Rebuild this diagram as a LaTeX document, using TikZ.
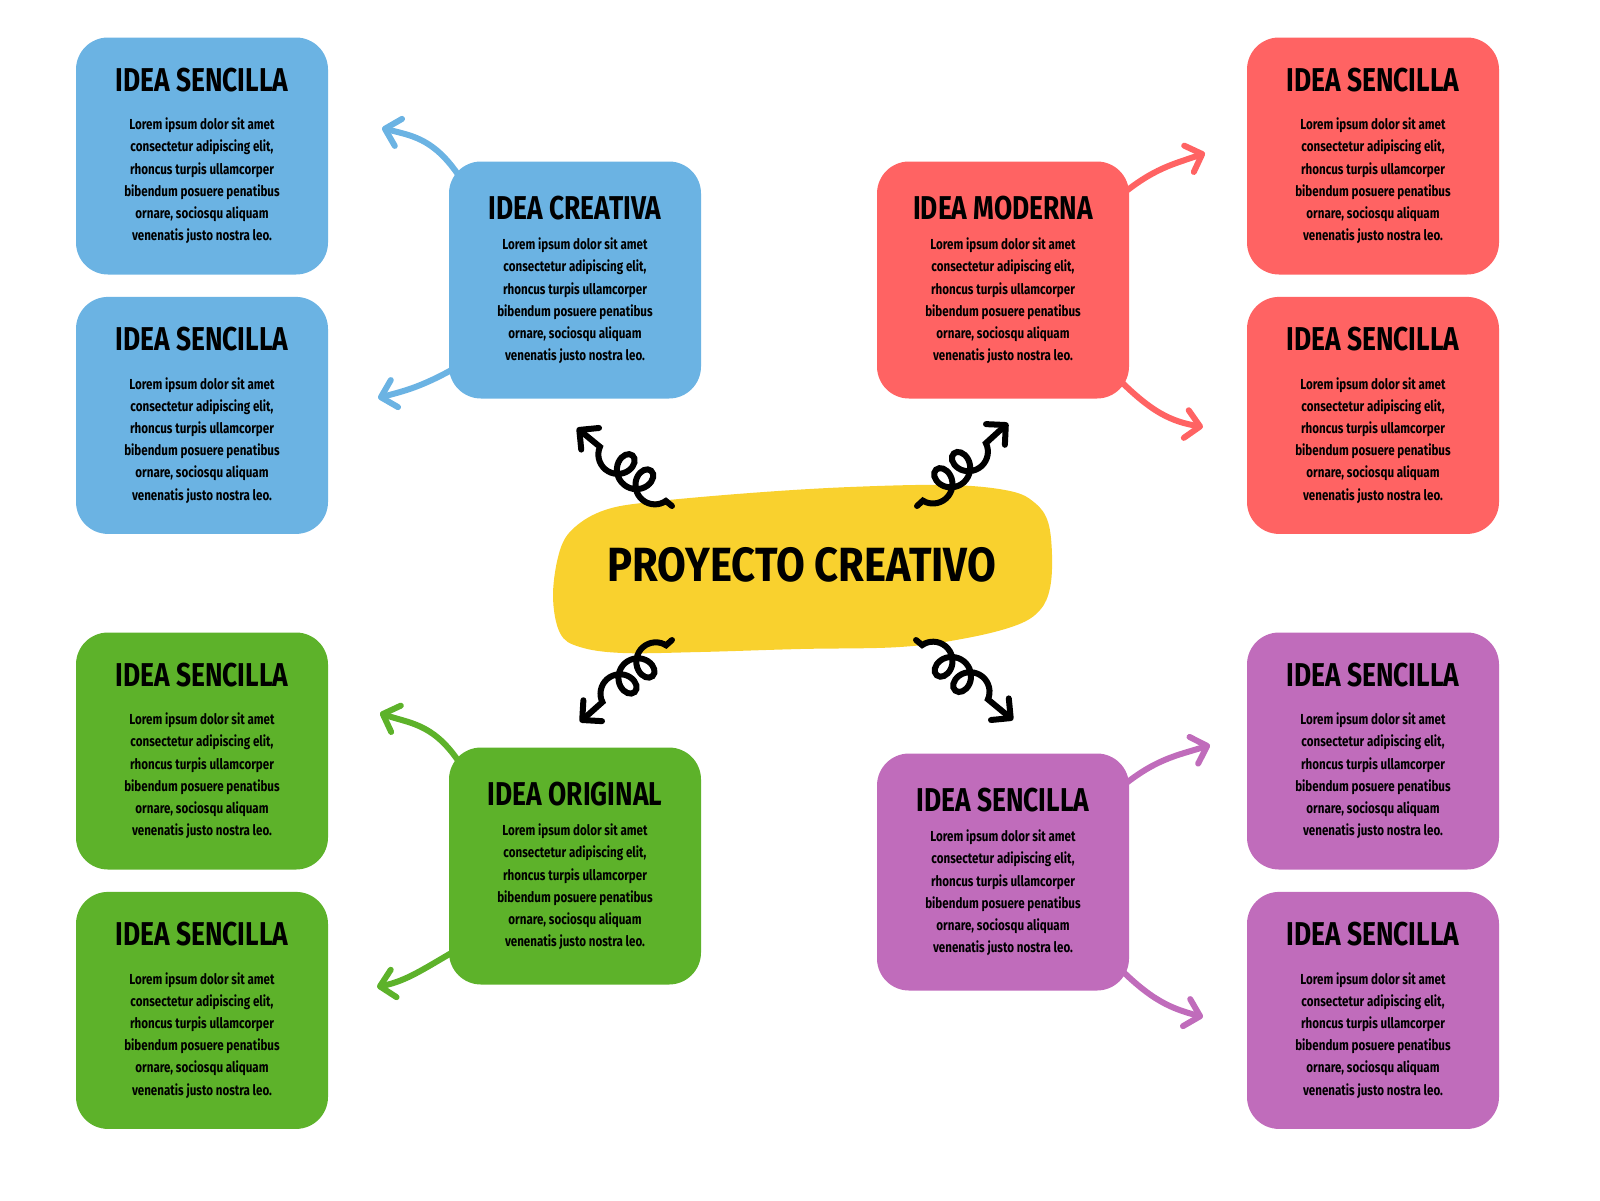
\documentclass[tikz,border=0pt]{standalone}
\usepackage{fontspec}
\setmainfont{Fira Sans}[FakeStretch=0.8]
\newfontfamily\titlefont{Fira Sans}[FakeStretch=0.87]
\usepackage{tikz}
\usetikzlibrary{arrows.meta, decorations.pathmorphing}
\usetikzlibrary{positioning}

\definecolor{azul}{HTML}{6BB3E3}
\definecolor{rojo}{HTML}{FF6363}
\definecolor{verde}{HTML}{5DB22A}
\definecolor{morado}{HTML}{C06CBB}
\definecolor{amarillo}{HTML}{F9D12E}

\newcommand{\lorem}{Lorem ipsum dolor sit amet\\ consectetur adipiscing elit,\\ rhoncus turpis ullamcorper\\ bibendum posuere penatibus\\ ornare, sociosqu aliquam\\ venenatis justo nostra leo.}
\newcommand{\titulo}[2]{{\fontsize{33}{33}\selectfont #1}\\[#2]}

\tikzstyle{idea_box} = [
    rounded corners=32pt,
    align=center,
    inner sep=0pt,
    minimum width=252pt,
    minimum height=237pt,
    font=\fontsize{14.5}{22.2}\selectfont\bfseries
]
\tikzstyle{blue_box} = [idea_box, fill=azul]
\tikzstyle{red_box} = [idea_box, fill=rojo]
\tikzstyle{green_box} = [idea_box, fill=verde]
\tikzstyle{purple_box} = [idea_box, fill=morado]
\tikzstyle{title_text} = [
    inner sep=0pt,
    font=\titlefont\fontsize{48}{48}\selectfont\bfseries
]
\tikzstyle{idea_arrow} = [
    line width=6pt,
    line cap=round,
    shorten <=-15pt, % hide the start under the box
    -{Straight Barb[round, length=14pt, width=28pt]}
]
\tikzstyle{squiggle} = [
    line width=6pt,
    line cap=round,
    black,
    decorate,
    decoration={coil, aspect=0.9, amplitude=14pt, segment length=24pt, pre length=8pt, post length=26pt},
    -{Straight Barb[round, length=14pt, width=28pt]}
]

\begin{document}
\begin{tikzpicture}[x=1pt, y=-1pt]
\useasboundingbox (0,0) rectangle (1600,1200);

% centre
\fill[amarillo] plot[smooth cycle, tension=0.6] coordinates {
    (553,595) (560,550) (575,527) (605,510) (650,502) (750,493) (850,487)
    (950,485) (1010,491) (1035,503) (1048,522) (1052,555) (1050,588)
    (1040,610) (1017,625) (967,638) (900,647) (800,649) (700,652)
    (623,653) (580,647) (560,633)
};
\node[title_text] (proyecto) at (802,565) {PROYECTO CREATIVO};

% inner ideas
\node[blue_box] (creativa) at (575,280) {\titulo{IDEA CREATIVA}{8pt}\lorem};
\node[red_box] (moderna) at (1003,280) {\titulo{IDEA MODERNA}{8pt}\lorem};
\node[green_box] (original) at (575,866) {\titulo{IDEA ORIGINAL}{8pt}\lorem};
\node[purple_box] (sencilla) at (1003,872) {\titulo{IDEA SENCILLA}{8pt}\lorem};

% outer ideas
\node[blue_box] (azul_a) at (202,156) {\titulo{IDEA SENCILLA}{16pt}\lorem};
\node[blue_box, below=22pt of azul_a] (azul_b) {\titulo{IDEA SENCILLA}{16pt}\lorem};
\node[green_box] (verde_a) at (202,751) {\titulo{IDEA SENCILLA}{16pt}\lorem};
\node[green_box, below=22pt of verde_a] (verde_b) {\titulo{IDEA SENCILLA}{16pt}\lorem};
\node[red_box] (rojo_a) at (1373,156) {\titulo{IDEA SENCILLA}{16pt}\lorem};
\node[red_box, below=22pt of rojo_a] (rojo_b) {\titulo{IDEA SENCILLA}{16pt}\lorem};
\node[purple_box] (morado_a) at (1373,751) {\titulo{IDEA SENCILLA}{16pt}\lorem};
\node[purple_box, below=22pt of morado_a] (morado_b) {\titulo{IDEA SENCILLA}{16pt}\lorem};

% arrow ends
\coordinate (punta_azul_a) at (382,128);
\coordinate (punta_azul_b) at (378,398);
\coordinate (punta_rojo_a) at (1205,153);
\coordinate (punta_rojo_b) at (1203,427);
\coordinate (punta_verde_a) at (380,713);
\coordinate (punta_verde_b) at (377,987);
\coordinate (punta_morado_a) at (1210,745);
\coordinate (punta_morado_b) at (1203,1017);

\draw[idea_arrow, azul] (creativa.north west) to[out=125, in=-15] (punta_azul_a);
\draw[idea_arrow, azul] (creativa.216) to[out=210, in=15] (punta_azul_b);
\draw[idea_arrow, rojo] (moderna.36) to[out=40, in=200] (punta_rojo_a);
\draw[idea_arrow, rojo] (moderna.-41) to[out=-45, in=170] (punta_rojo_b);
\draw[idea_arrow, verde] (original.north west) to[out=125, in=-20] (punta_verde_a);
\draw[idea_arrow, verde] (original.215) to[out=210, in=12] (punta_verde_b);
\draw[idea_arrow, morado] (sencilla.36) to[out=40, in=198] (punta_morado_a);
\draw[idea_arrow, morado] (sencilla.-40) to[out=-45, in=165] (punta_morado_b);

% squiggles from the centre
\coordinate (espiral_no) at (672,506);
\coordinate (espiral_ne) at (917,506);
\coordinate (espiral_so) at (672,640);
\coordinate (espiral_se) at (916,640);
\coordinate (punta_no) at (577,428);
\coordinate (punta_ne) at (1008,423);
\coordinate (punta_so) at (580,722);
\coordinate (punta_se) at (1013,720);

\draw[squiggle] (espiral_no) -- (punta_no);
\draw[squiggle, decoration={mirror}] (espiral_ne) -- (punta_ne);
\draw[squiggle, decoration={mirror}] (espiral_so) -- (punta_so);
\draw[squiggle] (espiral_se) -- (punta_se);
\end{tikzpicture}
\end{document}
